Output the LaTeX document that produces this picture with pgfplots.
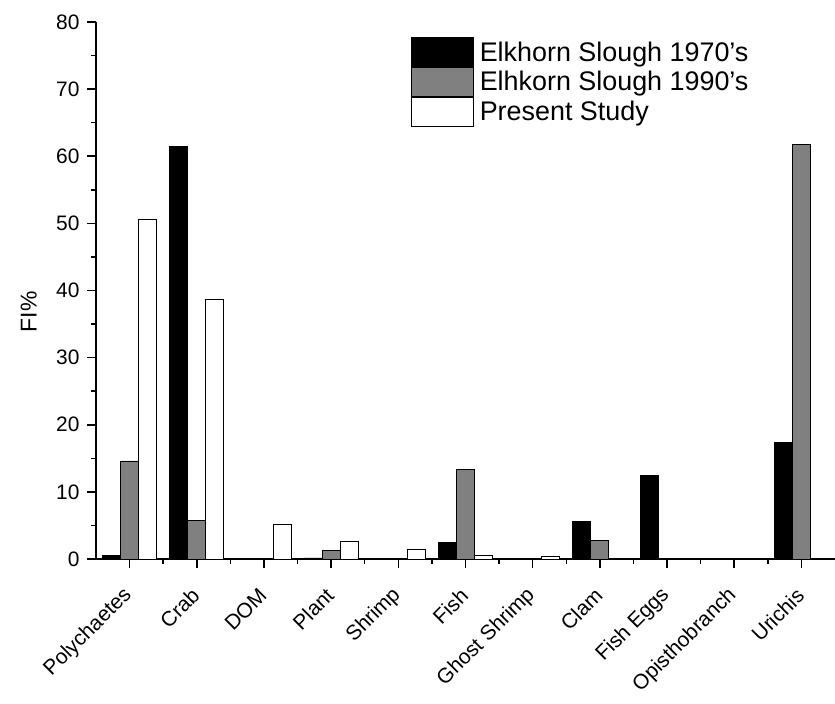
\documentclass[border=0pt]{standalone}
\usepackage{fontspec}
\setmainfont{Liberation Sans}
\usepackage{pgfplots}
\pgfplotsset{compat=1.18}
\begin{document}
\begin{tikzpicture}
\begin{axis}[
  scale only axis, width=739bp, height=537bp,
  ybar=0pt, bar width=18bp,
  xmin=-0.5, xmax=10.5, ymin=0, ymax=80,
  axis lines*=left,
  axis line style={line width=1.5bp},
  xtick={0,...,10},
  xticklabels={Polychaetes,Crab,DOM,Plant,Shrimp,Fish,Ghost Shrimp,Clam,Fish Eggs,Opisthobranch,Urichis},
  minor x tick num=1,
  ytick={0,10,...,80}, minor y tick num=1,
  tick align=outside, major tick length=9bp, minor tick length=5bp,
  tick style={line width=1.5bp, black},
  /pgf/number format/assume math mode=true,
  x tick label style={yshift=-24bp, xshift=-1bp, rotate=45, anchor=east, inner sep=0pt,
    font=\fontsize{21}{25}\selectfont},
  y tick label style={xshift=-4bp, font=\fontsize{21}{25}\selectfont},
  ylabel={FI\%},
  ylabel style={font=\fontsize{23}{27}\selectfont, at={(axis description cs:-0.091,0.46)}, anchor=center},
  legend style={draw=none, fill=none, at={(0.426,0.972)}, anchor=north west,
    row sep=0pt, inner sep=0pt, cells={anchor=west},
    font=\fontsize{27}{29}\selectfont,
    /tikz/every odd column/.append style={column sep=4bp}},
  barsty/.style={draw=black, line width=0.8bp,
    legend image code/.code={\draw[##1, line width=0.8bp] (0bp,-14.5bp) rectangle (62bp,14.5bp);}},
]
% Elkhorn Slough 1970's
\addplot[barsty, fill=black] coordinates {
  (0,0.5) (1,61.4) (3,0.15) (5,2.4) (7,5.6) (8,12.4) (10,17.4)};
% Elkhorn Slough 1990's
\addplot[barsty, fill=gray] coordinates {
  (0,14.6) (1,5.7) (3,1.3) (5,13.4) (7,2.8) (10,61.7)};
% Present study
\addplot[barsty, fill=white] coordinates {
  (0,50.6) (1,38.7) (2,5.2) (3,2.6) (4,1.4) (5,0.5) (6,0.4)};
\legend{Elkhorn Slough 1970's, Elhkorn Slough 1990's, Present Study}
\end{axis}
\pgfresetboundingbox
\path[use as bounding box] (-96bp,-145bp) rectangle (739bp,559bp);
\end{tikzpicture}
\end{document}
